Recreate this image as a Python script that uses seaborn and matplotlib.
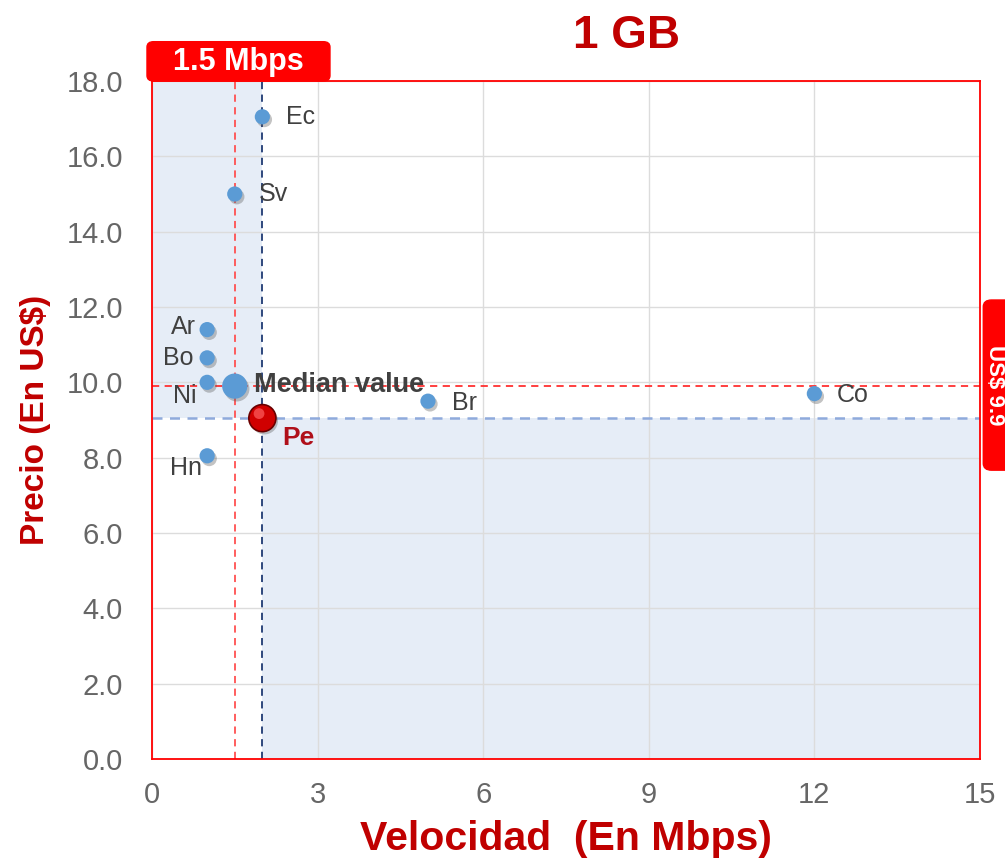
import matplotlib
matplotlib.use("Agg")
import matplotlib.pyplot as plt
import seaborn as sns
import pandas as pd
from matplotlib.patches import FancyBboxPatch, Rectangle
import matplotlib.patheffects as pe

# ---- data ----
countries = ["Ec", "Sv", "Ar", "Bo", "Ni", "Hn", "Br", "Co"]
speed = [2, 1.5, 1, 1, 1, 1, 5, 12]
price = [17.05, 15.0, 11.4, 10.65, 10.0, 8.05, 9.5, 9.7]
peru_label = "Pe"
peru_speed = 2
peru_price = 9.05
median_speed = 1.5
median_price = 9.9
x_ticks = [0, 3, 6, 9, 12, 15]
y_ticks = [0, 2, 4, 6, 8, 10, 12, 14, 16, 18]

# label offsets in points (dx, dy, ha)
label_pos = {
    "Ec": (17, 0, "left"), "Sv": (17, 0, "left"), "Ar": (-8, 2, "right"),
    "Bo": (-10, 0, "right"), "Ni": (-8, -10, "right"), "Hn": (-4, -9, "right"),
    "Br": (17, -1, "left"), "Co": (16, -1, "left"),
}

df = pd.DataFrame({"country": countries, "speed": speed, "price": price})

sns.set_theme(style="white")
plt.rcParams["font.family"] = ["Liberation Sans", "DejaVu Sans"]

DARKRED = "#C00000"
RED = "#FF0000"
BLUE = "#5B9BD5"
SHADE = "#E6EDF7"

fig = plt.figure(figsize=(10.05, 8.59), dpi=100)
ax = fig.add_axes([0.1512, 0.1164, 0.8239, 0.7893])
ax.set_xlim(0, 15)
ax.set_ylim(0, 18)

# quadrant shading around Peru
ax.add_patch(Rectangle((0, peru_price), peru_speed, 18 - peru_price, color=SHADE, zorder=0, lw=0))
ax.add_patch(Rectangle((peru_speed, 0), 15 - peru_speed, peru_price, color=SHADE, zorder=0, lw=0))

# grid
ax.set_xticks(x_ticks)
ax.set_yticks(y_ticks)
ax.grid(True, color="#DCDCDC", lw=1.0, zorder=0.5)
ax.set_axisbelow(True)

# reference lines
ax.axvline(median_speed, color="#FF5050", ls=(0, (4, 3)), lw=1.3, zorder=2)
ax.axhline(median_price, color="#FF3030", ls=(0, (4, 3)), lw=1.3, zorder=2)
ax.axvline(peru_speed, color="#1F3A73", ls=(0, (4, 3)), lw=1.3, zorder=2)
ax.axhline(peru_price, color="#8FAADC", ls=(0, (4, 3)), lw=1.8, zorder=2)

# shadows
shadow = [pe.SimplePatchShadow(offset=(1.5, -2), shadow_rgbFace="#555555", alpha=0.35), pe.Normal()]

sc = sns.scatterplot(data=df, x="speed", y="price", ax=ax, color=BLUE, s=120,
                     edgecolor="none", zorder=4, legend=False)
sc.collections[-1].set_path_effects(shadow)

ax.scatter([median_speed], [median_price], s=330, color=BLUE, edgecolor="none", zorder=4,
           path_effects=shadow)
ax.scatter([peru_speed], [peru_price], s=380, color="#D00000", edgecolor="#6A0000", lw=1.2,
           zorder=5, path_effects=shadow)
ax.scatter([peru_speed - 0.06], [peru_price + 0.12], s=60, color="#FF6060", edgecolor="none",
           zorder=6, alpha=0.7)

for c, x, y in zip(countries, speed, price):
    dx, dy, ha = label_pos[c]
    ax.annotate(c, (x, y), xytext=(dx, dy), textcoords="offset points", ha=ha, va="center",
                fontsize=18, color="#404040", zorder=7)

ax.annotate("Median value", (median_speed, median_price), xytext=(14, 1), textcoords="offset points",
            ha="left", va="center", fontsize=19.5, fontweight="bold", color="#404040", zorder=7)
ax.annotate(peru_label, (peru_speed, peru_price), xytext=(14, -14), textcoords="offset points",
            ha="left", va="center", fontsize=19, fontweight="bold", color="#B0101A", zorder=7)

# frame
for s in ax.spines.values():
    s.set_color(RED)
    s.set_linewidth(1.3)
    s.set_zorder(8)

ax.set_xticklabels([str(t) for t in x_ticks])
ax.set_yticklabels([f"{t:.1f}" for t in y_ticks])
ax.tick_params(axis="both", labelsize=21, colors="#666666", length=0)
ax.tick_params(axis="y", pad=21)
ax.tick_params(axis="x", pad=16)

ax.set_xlabel("Velocidad  (En Mbps)", fontsize=29.5, fontweight="bold", color=DARKRED, labelpad=8)
ax.set_ylabel("Precio (En US$)", fontsize=24, fontweight="bold", color=DARKRED, labelpad=11)

fig.text(0.623, 1 - 48 / 859, "1 GB", fontsize=33, fontweight="bold", color=DARKRED,
         ha="center", va="baseline")

# "1.5 Mbps" tag at top
tag = FancyBboxPatch((-0.006, 1.0), 0.221, 0.058, boxstyle="round,pad=0,rounding_size=0.008",
                     transform=ax.transAxes, color=RED, clip_on=False, zorder=9)
ax.add_patch(tag)
ax.text(0.104, 1.028, f"{median_speed} Mbps", transform=ax.transAxes, ha="center", va="center",
        fontsize=22, fontweight="bold", color="white", zorder=10, clip_on=False)

# price tag at right
tag2 = FancyBboxPatch((1.004, 0.426), 0.06, 0.251, boxstyle="round,pad=0,rounding_size=0.01",
                      transform=ax.transAxes, color=RED, clip_on=False, zorder=9)
ax.add_patch(tag2)
ax.text(1.0175, 0.551, f"US$ {median_price}", transform=ax.transAxes, ha="center", va="center",
        rotation=-90, fontsize=16, fontweight="bold", color="white", zorder=10, clip_on=False)

fig.savefig("out.png", dpi=100)
